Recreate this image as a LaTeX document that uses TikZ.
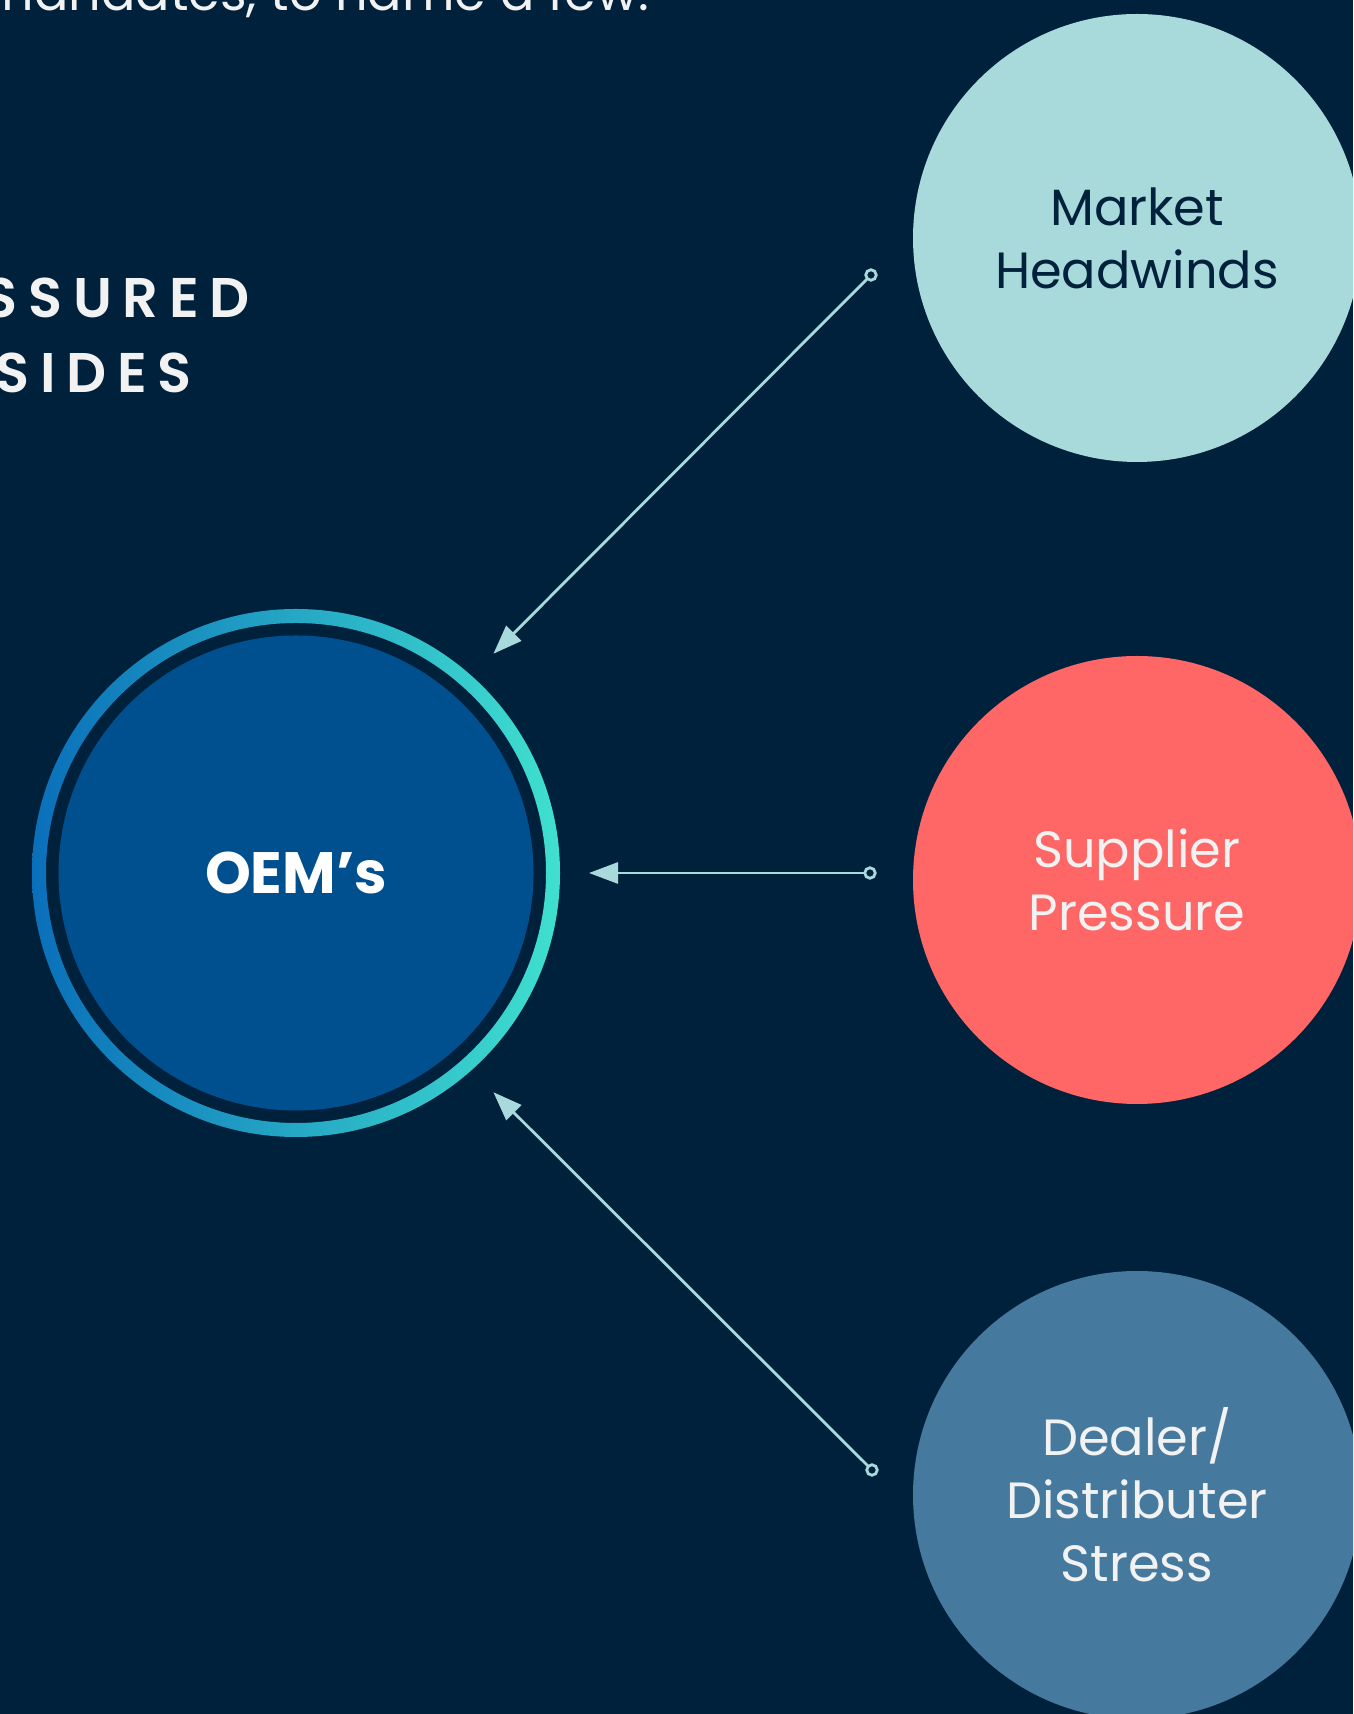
\documentclass[tikz,border=0pt]{standalone}
\usepackage{fontspec}
\setmainfont{Poppins}
\newfontfamily\headfont{Poppins}[UprightFont=* SemiBold, LetterSpace=19]
\usepackage{tikz}
\usetikzlibrary{calc,arrows.meta}

\definecolor{navybg}{HTML}{00213C}
\definecolor{oemfill}{HTML}{00508F}
\definecolor{ringblue}{HTML}{0A6FBA}
\definecolor{ringteal}{HTML}{40E0D0}
\definecolor{mintfill}{HTML}{A8D9DB}
\definecolor{coralfill}{HTML}{FF6666}
\definecolor{steelfill}{HTML}{46799E}
\definecolor{paleline}{HTML}{A8D9DB}
\definecolor{softwhite}{HTML}{F2F2F2}

\begin{document}
\begin{tikzpicture}[every node/.style={inner sep=0pt, outer sep=0pt},
    topic/.style={circle, minimum size=4.48cm, align=center, font=\fontsize{14.5}{17.9}\selectfont},
    hub/.style={circle, fill=oemfill, minimum size=4.75cm, text=white, font=\fontsize{16.6}{20}\selectfont\bfseries},
    tail/.style={circle, draw=paleline, line width=0.8pt, minimum size=0.105cm},
    push/.style={draw=paleline, line width=0.8pt, -{Triangle[length=0.29cm, width=0.21cm]}},
    heading/.style={anchor=base west, text=softwhite, font=\headfont\fontsize{15.9}{19}\selectfont}]
  \useasboundingbox (0,0) rectangle (13.53,17.14);
  \clip (0,0) rectangle (13.53,17.14);
  \fill[navybg] (0,0) rectangle (13.53,17.14);
  \node[anchor=base east, text=softwhite, font=\fontsize{14.5}{17.9}\selectfont] (intro) at (6.49,17.035) {l mandates, to name a few.};
  \node[heading] (headA) at (-0.16,13.96) {SSURED};
  \node[heading] (headB) at (-0.04,13.21) {SIDES};
  \node[topic, fill=mintfill, text=navybg] (mkt) at (11.37,14.76) {Market\\Headwinds};
  \node[topic, fill=coralfill, text=softwhite] (sup) at (11.37,8.34) {Supplier\\Pressure};
  \node[topic, fill=steelfill, text=softwhite] (dlr) at (11.37,2.19) {Dealer/\\Distributer\\Stress};
  \node[hub] (oem) at (2.96,8.41) {OEM’s};
  \shade[left color=ringblue, right color=ringteal, even odd rule] (oem.center) circle (2.64) (oem.center) circle (2.50);
  \node[tail] (mktend) at (8.71,14.39) {};
  \node[tail] (supend) at (8.70,8.41) {};
  \node[tail] (dlrend) at (8.72,2.44) {};
  \coordinate (mkttip) at ($(oem.center)+(48:2.95)$);
  \coordinate (suptip) at ($(oem.center)+(0:2.93)$);
  \coordinate (dlrtip) at ($(oem.center)+(-48:2.95)$);
  \draw[push] (mktend) -- (mkttip);
  \draw[push] (supend) -- (suptip);
  \draw[push] (dlrend) -- (dlrtip);
\end{tikzpicture}
\end{document}
